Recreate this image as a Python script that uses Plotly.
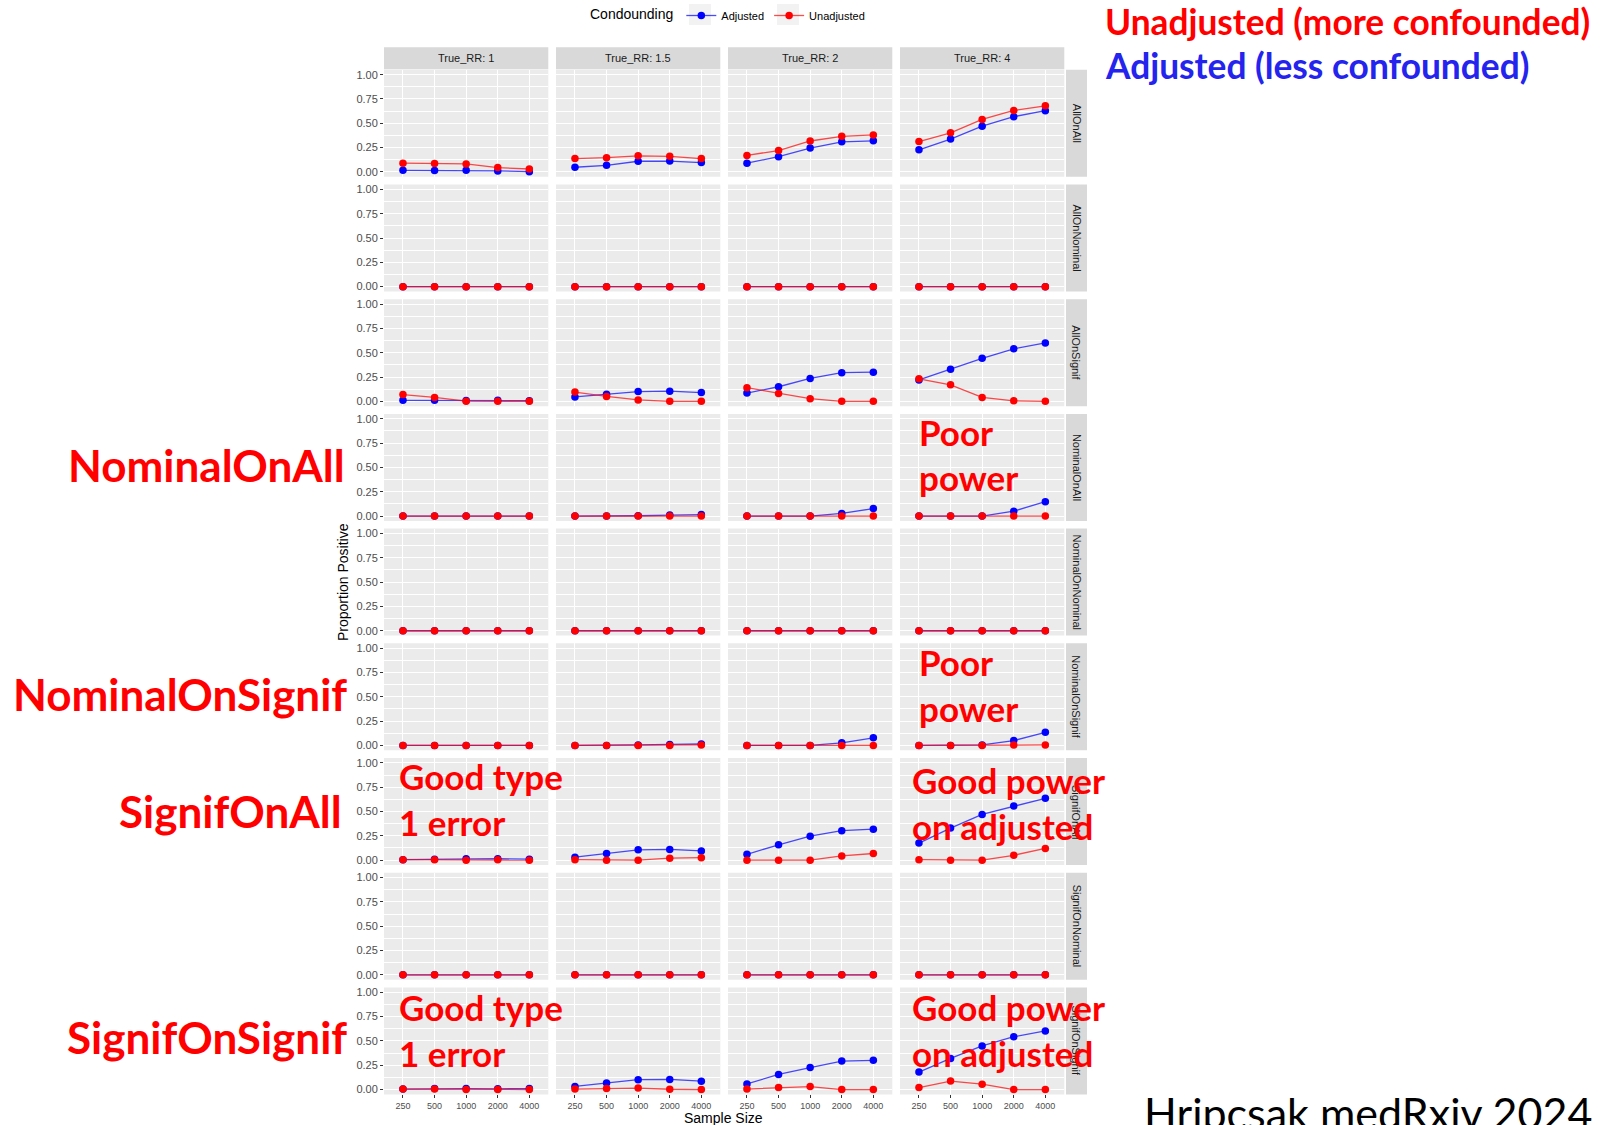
import plotly.graph_objects as go

W, H = 1610, 1125

sample_sizes = ["250", "500", "1000", "2000", "4000"]
true_rr_labels = ["True_RR: 1", "True_RR: 1.5", "True_RR: 2", "True_RR: 4"]
designs = ["AllOnAll", "AllOnNominal", "AllOnSignif", "NominalOnAll", "NominalOnNominal",
           "NominalOnSignif", "SignifOnAll", "SignifOnNominal", "SignifOnSignif"]

# proportion positive, one row per True_RR (1, 1.5, 2, 4), columns = sample sizes
adj_AllOnAll = [[0.017, 0.014, 0.017, 0.010, 0.003],
                [0.048, 0.068, 0.110, 0.112, 0.096],
                [0.090, 0.157, 0.246, 0.310, 0.320],
                [0.228, 0.338, 0.470, 0.568, 0.630]]
unadj_AllOnAll = [[0.090, 0.087, 0.082, 0.045, 0.030],
                  [0.137, 0.147, 0.166, 0.160, 0.137],
                  [0.170, 0.220, 0.318, 0.366, 0.380],
                  [0.312, 0.402, 0.540, 0.632, 0.680]]
adj_AllOnNominal = [[0.0, 0.0, 0.0, 0.0, 0.0]] * 4
unadj_AllOnNominal = [[0.0, 0.0, 0.0, 0.0, 0.0]] * 4
adj_AllOnSignif = [[0.010, 0.010, 0.008, 0.010, 0.007],
                   [0.045, 0.073, 0.100, 0.104, 0.090],
                   [0.085, 0.150, 0.235, 0.295, 0.300],
                   [0.220, 0.330, 0.442, 0.540, 0.600]]
unadj_AllOnSignif = [[0.070, 0.040, 0.002, 0.000, 0.000],
                     [0.095, 0.050, 0.015, 0.000, 0.000],
                     [0.140, 0.080, 0.027, 0.000, 0.000],
                     [0.232, 0.170, 0.040, 0.005, 0.000]]
adj_NominalOnAll = [[0.0, 0.0, 0.0, 0.0, 0.0],
                    [0.0, 0.0, 0.003, 0.010, 0.015],
                    [0.0, 0.0, 0.0, 0.027, 0.077],
                    [0.0, 0.0, 0.0, 0.050, 0.148]]
unadj_NominalOnAll = [[0.0, 0.0, 0.0, 0.0, 0.0]] * 4
adj_NominalOnNominal = [[0.0, 0.0, 0.0, 0.0, 0.0]] * 4
unadj_NominalOnNominal = [[0.0, 0.0, 0.0, 0.0, 0.0]] * 4
adj_NominalOnSignif = [[0.0, 0.0, 0.0, 0.0, 0.0],
                       [0.0, 0.0, 0.005, 0.010, 0.015],
                       [0.0, 0.0, 0.0, 0.027, 0.078],
                       [0.0, 0.0, 0.005, 0.050, 0.135]]
unadj_NominalOnSignif = [[0.0, 0.0, 0.0, 0.0, 0.0],
                         [0.0, 0.0, 0.0, 0.0, 0.005],
                         [0.0, 0.0, 0.0, 0.0, 0.0],
                         [0.0, 0.0, 0.0, 0.005, 0.005]]
adj_SignifOnAll = [[0.005, 0.010, 0.015, 0.015, 0.010],
                   [0.030, 0.068, 0.106, 0.110, 0.095],
                   [0.060, 0.158, 0.246, 0.303, 0.318],
                   [0.175, 0.330, 0.470, 0.556, 0.636]]
unadj_SignifOnAll = [[0.005, 0.005, 0.000, 0.003, 0.000],
                     [0.005, 0.000, 0.000, 0.020, 0.025],
                     [0.000, 0.000, 0.000, 0.043, 0.068],
                     [0.005, 0.000, 0.000, 0.050, 0.120]]
adj_SignifOnNominal = [[0.0, 0.0, 0.0, 0.0, 0.0]] * 4
unadj_SignifOnNominal = [[0.0, 0.0, 0.0, 0.0, 0.0]] * 4
adj_SignifOnSignif = [[0.005, 0.010, 0.010, 0.007, 0.010],
                      [0.032, 0.068, 0.101, 0.104, 0.086],
                      [0.058, 0.155, 0.226, 0.293, 0.300],
                      [0.180, 0.320, 0.448, 0.543, 0.602]]
unadj_SignifOnSignif = [[0.005, 0.005, 0.000, 0.000, 0.000],
                        [0.005, 0.010, 0.015, 0.003, 0.000],
                        [0.005, 0.020, 0.030, 0.000, 0.000],
                        [0.020, 0.087, 0.055, 0.000, 0.000]]

adjusted = [adj_AllOnAll, adj_AllOnNominal, adj_AllOnSignif, adj_NominalOnAll, adj_NominalOnNominal,
            adj_NominalOnSignif, adj_SignifOnAll, adj_SignifOnNominal, adj_SignifOnSignif]
unadjusted = [unadj_AllOnAll, unadj_AllOnNominal, unadj_AllOnSignif, unadj_NominalOnAll,
              unadj_NominalOnNominal, unadj_NominalOnSignif, unadj_SignifOnAll,
              unadj_SignifOnNominal, unadj_SignifOnSignif]

y_ticks = [0, 0.25, 0.5, 0.75, 1.0]
y_tick_text = ["0.00", "0.25", "0.50", "0.75", "1.00"]

# ---- layout geometry (pixels) ----
COL_L0, COL_PITCH, COL_W = 384.0, 172.0, 164.3
ROW_T0, ROW_PITCH, ROW_H = 69.8, 114.7, 107.0

def px_x(p):
    return p / W

def px_y(p):
    return 1 - p / H

fig = go.Figure()
layout = {}
shapes = []
annotations = []

def note(x, y, text, font, xanchor="center", yanchor="middle", **kw):
    d = dict(xref="paper", yref="paper", x=px_x(x), y=px_y(y), text=text, showarrow=False,
             xanchor=xanchor, yanchor=yanchor, font=font)
    d.update(kw)
    annotations.append(d)

n = 0
for i, design in enumerate(designs):
    top = ROW_T0 + ROW_PITCH * i
    bot = top + ROW_H
    for j in range(4):
        n += 1
        left = COL_L0 + COL_PITCH * j
        right = left + COL_W
        xa = "xaxis" if n == 1 else f"xaxis{n}"
        ya = "yaxis" if n == 1 else f"yaxis{n}"
        xr = "x" if n == 1 else f"x{n}"
        yr = "y" if n == 1 else f"y{n}"
        bottom_row = (i == len(designs) - 1)
        first_col = (j == 0)
        layout[xa] = dict(
            domain=[px_x(left), px_x(right)], anchor=yr, type="category",
            categoryorder="array", categoryarray=sample_sizes,
            range=[-0.6, 4.6], showgrid=True, gridcolor="white", gridwidth=1.1,
            zeroline=False, showline=False, showticklabels=bottom_row,
            ticks="outside" if bottom_row else "", ticklen=3, tickcolor="#333333", tickwidth=1,
            tickfont=dict(family="Liberation Sans, Arial", size=9, color="#4D4D4D"),
            fixedrange=True,
        )
        layout[ya] = dict(
            domain=[px_y(bot), px_y(top)], anchor=xr, range=[-0.05, 1.05],
            tickvals=y_ticks, ticktext=y_tick_text,
            showgrid=True, gridcolor="white", gridwidth=1.1,
            minor=dict(tickvals=[0.125, 0.375, 0.625, 0.875], showgrid=True,
                       gridcolor="white", gridwidth=0.5, ticks=""),
            zeroline=False, showline=False, showticklabels=first_col,
            ticks="outside" if first_col else "", ticklen=3, tickcolor="#333333", tickwidth=1,
            tickfont=dict(family="Liberation Sans, Arial", size=11, color="#4D4D4D"),
            fixedrange=True,
        )
        shapes.append(dict(type="rect", xref="paper", yref="paper",
                           x0=px_x(left), x1=px_x(right), y0=px_y(bot), y1=px_y(top),
                           fillcolor="#EBEBEB", line=dict(width=0), layer="below"))
        fig.add_trace(go.Scatter(
            x=sample_sizes, y=adjusted[i][j], xaxis=xr, yaxis=yr, mode="lines+markers",
            name="Adjusted", legendgroup="adj", showlegend=(n == 1),
            line=dict(color="rgba(0,0,255,0.7)", width=1.3),
            marker=dict(color="#0000FF", size=7.5),
            cliponaxis=False))
        fig.add_trace(go.Scatter(
            x=sample_sizes, y=unadjusted[i][j], xaxis=xr, yaxis=yr, mode="lines+markers",
            name="Unadjusted", legendgroup="unadj", showlegend=(n == 1),
            line=dict(color="rgba(255,0,0,0.7)", width=1.3),
            marker=dict(color="#FF0000", size=7.5),
            cliponaxis=False))

    # right strip
    shapes.append(dict(type="rect", xref="paper", yref="paper",
                       x0=px_x(1066), x1=px_x(1087), y0=px_y(bot), y1=px_y(top),
                       fillcolor="#D9D9D9", line=dict(width=0), layer="below"))
    note(1076.5, (top + bot) / 2, design,
         dict(family="Liberation Sans, Arial", size=11, color="#1A1A1A"), textangle=90)

# top strips
for j, lab in enumerate(true_rr_labels):
    left = COL_L0 + COL_PITCH * j
    right = left + COL_W
    shapes.append(dict(type="rect", xref="paper", yref="paper",
                       x0=px_x(left), x1=px_x(right), y0=px_y(69.3), y1=px_y(47.3),
                       fillcolor="#D9D9D9", line=dict(width=0), layer="below"))
    note((left + right) / 2, 58.3, lab,
         dict(family="Liberation Sans, Arial", size=11, color="#1A1A1A"))

# axis titles
note(723.5, 1118, "Sample Size", dict(family="Liberation Sans, Arial", size=14, color="black"))
note(343, 582, "Proportion Positive", dict(family="Liberation Sans, Arial", size=14, color="black"),
     textangle=-90)

# legend key backgrounds
for x0 in (689, 777):
    shapes.append(dict(type="rect", xref="paper", yref="paper",
                       x0=px_x(x0), x1=px_x(x0 + 22), y0=px_y(25), y1=px_y(4),
                       fillcolor="#F2F2F2", line=dict(width=0), layer="below"))

BIG = dict(family="Lato", size=44, color="#FF0000", weight="bold")
MID = dict(family="Lato", size=35, color="#FF0000", weight="bold")

left_labels = [("NominalOnAll", 347, 465), ("NominalOnSignif", 349, 694),
               ("SignifOnAll", 344, 811), ("SignifOnSignif", 349, 1037)]
for txt, xr_, yc in left_labels:
    note(xr_, yc, txt, BIG, xanchor="right")

panel_notes = [("Poor", 917, 432), ("power", 917, 477.5),
               ("Poor", 917, 662), ("power", 917, 707.5),
               ("Good type", 396.5, 776), ("1 error", 396.5, 821.5),
               ("Good power", 910, 780), ("on adjusted", 910, 825.6),
               ("Good type", 396.5, 1007), ("1 error", 396.5, 1052.5),
               ("Good power", 910, 1007), ("on adjusted", 910, 1052.5)]
for txt, xl, yc in panel_notes:
    note(xl, yc, txt, MID, xanchor="left")

note(1103, 22, "Unadjusted (more confounded)",
     dict(family="Lato", size=35.3, color="#FF0000", weight="bold"), xanchor="left")
note(1103, 65, "Adjusted (less confounded)",
     dict(family="Lato", size=35.3, color="#2424EE", weight="bold"), xanchor="left")
note(1142, 1112, "Hripcsak medRxiv 2024", dict(family="Lato", size=43, color="black"),
     xanchor="left")

layout.update(dict(
    width=W, height=H, margin=dict(l=0, r=0, t=0, b=0, autoexpand=False),
    paper_bgcolor="white", plot_bgcolor="rgba(0,0,0,0)",
    shapes=shapes, annotations=annotations,
    showlegend=True,
    legend=dict(orientation="h", x=px_x(588), y=px_y(1), xanchor="left", yanchor="top",
                title=dict(text="Condounding", font=dict(family="Liberation Sans, Arial", size=14,
                                                         color="black")),
                font=dict(family="Liberation Sans, Arial", size=11, color="black"),
                itemwidth=30, bgcolor="rgba(0,0,0,0)", tracegroupgap=0),
))
fig.update_layout(**layout)
fig.write_html("out.html")
